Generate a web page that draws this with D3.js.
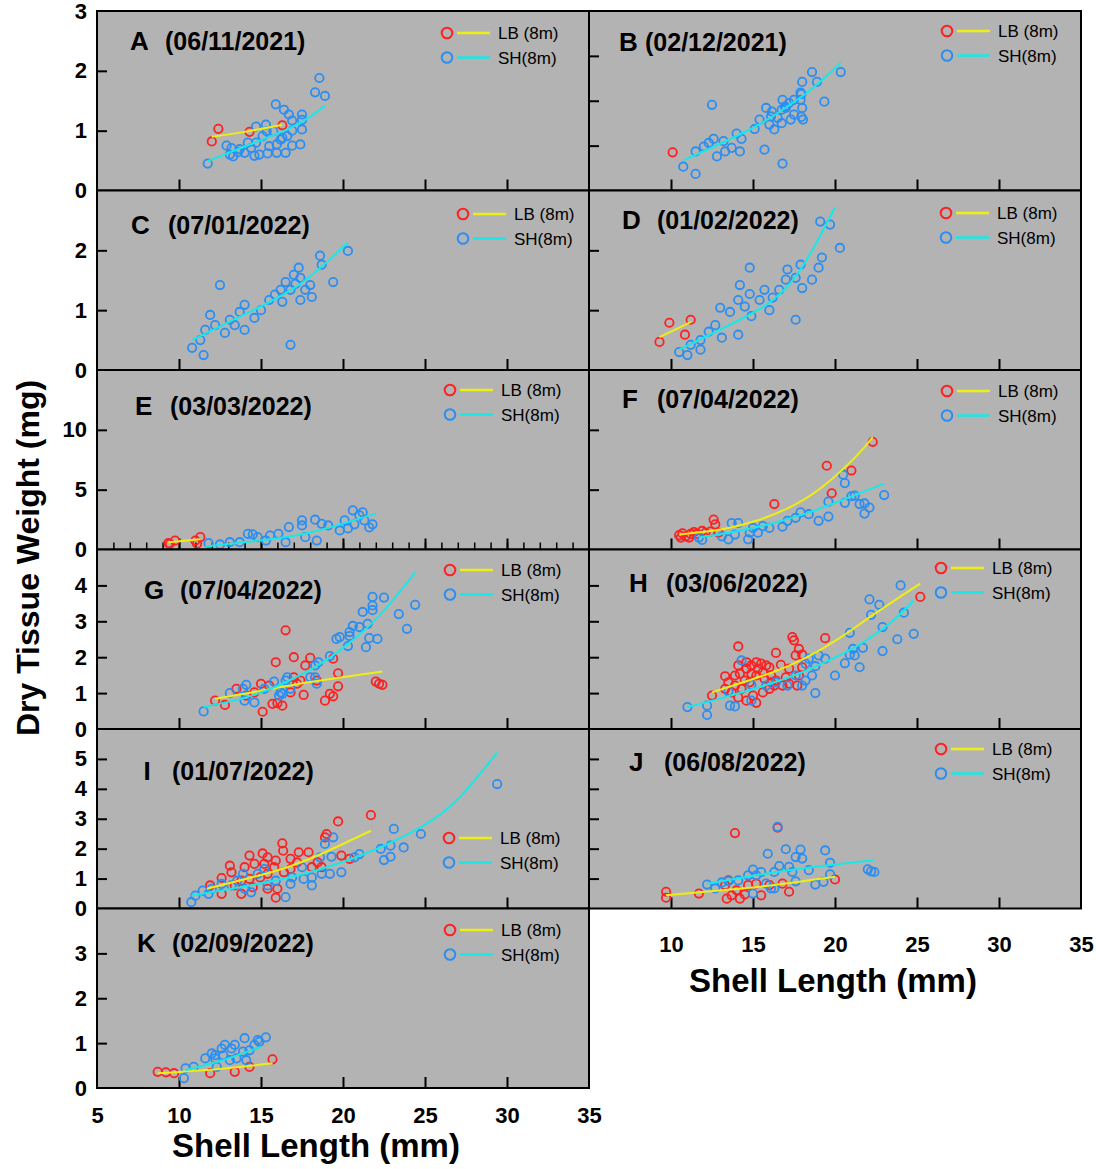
<!DOCTYPE html>
<html>
<head>
<meta charset="utf-8">
<script src="https://cdn.jsdelivr.net/npm/d3@7"></script>
<style>
  body { margin: 0; background: #fff; }
  text { font-family: 'Liberation Sans', Arial, sans-serif; }
</style>
</head>
<body>
<div id="chart"></div>
<script>
// panel meta
const panelIds = ['A', 'B', 'C', 'D', 'E', 'F', 'G', 'H', 'I', 'J', 'K']
const panelDates = ['06/11/2021', '02/12/2021', '07/01/2022', '01/02/2022', '03/03/2022', '07/04/2022',
  '07/04/2022', '03/06/2022', '01/07/2022', '06/08/2022', '02/09/2022']
const yMaxes = [3, 4, 3, 3, 15, 15, 5, 5, 6, 6, 4]
const yTickVals = [[1, 2], [1, 2, 3], [1, 2], [1, 2], [5, 10], [5, 10], [1, 2, 3, 4], [1, 2, 3, 4],
  [1, 2, 3, 4, 5], [1, 2, 3, 4, 5], [1, 2, 3]]
const yLabelVals = [[0, 1, 2, 3], [], [0, 1, 2], [], [0, 5, 10], [], [0, 1, 2, 3, 4], [],
  [0, 1, 2, 3, 4, 5], [], [0, 1, 2, 3]]
const xTickVals = [10, 15, 20, 25, 30]
const xLabelsLeft = [5, 10, 15, 20, 25, 30, 35]
const xLabelsRight = [10, 15, 20, 25, 30, 35]
const legendLabels = ['LB (8m)', 'SH(8m)']

// data: [shell length mm, dry weight mg]
const lbA = [[12.0, 0.82], [12.4, 1.03], [14.3, 0.98], [16.3, 1.09]]
const lbFitA = [[12.0, 0.9], [14.0, 0.98], [16.3, 1.1]]
const shA = [[18.56, 1.88], [18.3, 1.64], [18.9, 1.58], [15.9, 1.44], [16.4, 1.35], [16.7, 1.27], [16.9, 1.17],
  [17.5, 1.27], [17.5, 1.18], [17.5, 1.02], [16.9, 1.0], [16.6, 0.91], [16.3, 0.88], [15.96, 0.77], [15.5, 0.74],
  [15.3, 1.1], [15.35, 0.99], [15.1, 0.91], [14.7, 1.07], [14.7, 0.8], [14.2, 0.8], [14.4, 0.71], [14.0, 0.63],
  [14.6, 0.58], [14.9, 0.6], [15.4, 0.62], [15.96, 0.63], [16.5, 0.63], [16.9, 0.75], [17.4, 0.77], [12.9, 0.75],
  [13.2, 0.71], [13.3, 0.57], [13.6, 0.64], [13.7, 0.69], [11.75, 0.45], [13.1, 0.6], [15.75, 0.99], [16.2, 0.85]]
const shFitA = [[11.75, 0.49], [13.3, 0.66], [15.35, 0.88], [17.4, 1.13], [18.9, 1.42]]

const lbB = [[10.1, 0.85]]
const lbFitB = []
const shB = [[12.5, 1.91], [10.75, 0.53], [11.5, 0.37], [11.5, 0.87], [12.0, 0.98], [12.3, 1.06], [12.6, 1.15],
  [12.8, 0.76], [13.2, 1.1], [13.3, 0.87], [13.7, 0.95], [14.0, 1.27], [14.2, 0.87], [14.3, 1.15], [15.1, 1.37],
  [15.7, 0.91], [15.8, 1.84], [16.1, 1.65], [16.3, 1.36], [20.35, 2.64], [18.6, 2.64], [18.9, 2.42], [18.0, 2.42],
  [17.9, 2.18], [17.95, 2.15], [19.35, 1.98], [17.5, 2.02], [18.0, 1.84], [17.2, 1.95], [16.95, 1.87], [16.75, 1.8],
  [17.5, 1.69], [17.95, 1.64], [18.05, 1.58], [16.75, 1.5], [16.8, 0.6], [16.15, 1.76], [16.5, 1.62], [17.3, 1.58],
  [16.0, 1.47], [16.8, 2.02], [17.0, 1.84], [15.4, 1.58], [17.9, 2.02]]
const shFitB = [[10.75, 0.67], [14.6, 1.32], [16.65, 1.76], [18.5, 2.24], [20.35, 2.84]]

const lbC = []
const lbFitC = []
const shC = [[20.3, 1.99], [18.6, 1.91], [18.7, 1.76], [19.4, 1.47], [18.0, 1.42], [18.1, 1.22], [17.4, 1.54],
  [17.1, 1.44], [16.8, 1.34], [16.5, 1.47], [16.2, 1.34], [15.85, 1.26], [17.0, 1.59], [17.7, 1.34], [17.4, 1.17],
  [15.5, 1.17], [15.0, 1.0], [14.6, 0.87], [14.0, 1.09], [13.7, 0.97], [13.1, 0.84], [12.5, 1.42], [13.4, 0.75],
  [12.8, 0.62], [12.2, 0.75], [11.6, 0.67], [11.3, 0.5], [10.8, 0.37], [11.5, 0.25], [14.0, 0.67], [16.8, 0.42],
  [11.9, 0.92], [16.3, 1.14], [17.3, 1.71]]
const shFitC = [[10.8, 0.5], [14.3, 0.97], [17.4, 1.44], [20.3, 2.13]]

const lbD = [[9.3, 0.47], [9.9, 0.79], [11.2, 0.84], [10.85, 0.59]]
const lbFitD = [[9.3, 0.55], [11.2, 0.8]]
const shD = [[19.1, 2.48], [19.7, 2.43], [20.3, 2.04], [19.0, 1.71], [19.2, 1.88], [18.6, 1.51], [17.9, 1.76],
  [17.6, 1.54], [18.0, 1.37], [17.0, 1.51], [16.6, 1.34], [16.2, 1.21], [15.7, 1.34], [15.4, 1.17], [14.8, 1.27],
  [14.2, 1.42], [14.1, 1.17], [13.6, 0.97], [14.5, 1.06], [14.9, 0.9], [13.0, 1.04], [12.7, 0.75], [12.3, 0.64],
  [11.8, 0.5], [11.2, 0.42], [10.5, 0.3], [11.0, 0.25], [11.8, 0.34], [13.1, 0.54], [14.1, 0.59], [14.8, 1.71],
  [17.6, 0.84], [16.0, 1.0], [17.1, 1.68]]
const shFitD = [[10.5, 0.34], [14.2, 0.84], [17.3, 1.46], [20.0, 2.72]]

const lbE = [[9.35, 0.53], [9.76, 0.75], [11.0, 0.75], [11.3, 1.03], [11.1, 0.48], [9.45, 0.48]]
const lbFitE = [[9.35, 0.6], [11.3, 0.85]]
const shE = [[11.8, 0.53], [12.5, 0.42], [13.1, 0.61], [13.7, 0.61], [14.2, 1.31], [14.5, 1.26], [14.8, 1.03],
  [15.3, 0.75], [15.55, 1.17], [16.06, 1.31], [16.5, 0.61], [16.7, 1.87], [17.5, 2.43], [17.5, 2.01], [17.7, 1.03],
  [18.3, 2.49], [18.4, 0.75], [18.7, 2.15], [19.1, 2.01], [19.8, 1.59], [20.1, 2.43], [20.6, 3.27], [21.0, 2.85],
  [21.2, 3.1], [21.3, 2.43], [21.6, 1.84], [21.8, 2.1], [20.7, 2.1], [20.3, 1.76]]
const shFitE = [[11.6, 0.25], [14.9, 0.75], [18.0, 1.42], [22.0, 3.0]]

const lbF = [[22.3, 9.0], [19.5, 7.0], [21.0, 6.6], [19.8, 4.7], [16.3, 3.8], [12.6, 2.5], [12.7, 2.1], [10.5, 1.2],
  [10.7, 1.35], [10.9, 1.1], [11.2, 1.3], [11.4, 1.45], [11.6, 1.3], [11.9, 1.55], [12.1, 1.4], [12.4, 1.5],
  [12.9, 1.4], [10.6, 1.0], [11.1, 1.0]]
const lbFitF = [[10.5, 1.25], [13.1, 1.7], [15.2, 2.4], [17.2, 3.5], [19.2, 5.2], [21.3, 7.8], [22.3, 9.4]]
const shF = [[23.0, 4.55], [20.5, 6.25], [20.6, 5.55], [19.6, 4.0], [19.6, 2.75], [19.0, 2.4], [21.0, 4.45],
  [21.2, 4.5], [20.6, 3.9], [21.5, 3.8], [21.8, 3.85], [22.1, 3.5], [21.8, 3.0], [17.9, 3.1], [17.6, 2.65],
  [18.4, 2.95], [17.1, 2.4], [16.8, 1.9], [16.0, 1.8], [15.6, 1.95], [15.0, 1.8], [14.8, 1.4], [14.1, 2.2],
  [13.7, 2.2], [13.9, 1.25], [13.5, 0.85], [13.1, 1.1], [11.9, 0.8], [11.7, 1.0], [14.7, 0.85], [15.3, 1.4]]
const shFitF = [[11.7, 1.0], [14.1, 1.55], [16.2, 2.2], [18.2, 3.0], [20.2, 4.0], [23.0, 5.5]]

const lbG = [[16.5, 2.75], [15.9, 1.86], [17.0, 2.0], [18.0, 1.98], [17.7, 1.77], [19.4, 1.96], [19.7, 1.55],
  [19.7, 1.19], [19.2, 0.98], [19.4, 0.91], [18.9, 0.79], [22.0, 1.32], [22.2, 1.26], [22.4, 1.23], [18.4, 1.35],
  [17.6, 0.95], [15.0, 1.26], [15.1, 0.48], [15.7, 0.7], [16.0, 0.72], [16.3, 0.65], [17.2, 1.26], [17.4, 1.35],
  [16.8, 1.02], [14.6, 1.02], [14.1, 0.93], [12.8, 0.67], [12.2, 0.79], [13.5, 1.12], [15.5, 1.21], [17.0, 1.44]]
const lbFitG = [[12.2, 0.84], [15.2, 1.08], [18.2, 1.32], [22.4, 1.6]]
const shG = [[24.4, 3.46], [22.5, 3.66], [21.8, 3.68], [21.8, 3.44], [21.8, 3.31], [21.2, 3.26], [23.4, 3.2],
  [23.9, 2.79], [21.5, 2.93], [21.0, 2.84], [20.6, 2.87], [20.4, 2.7], [20.4, 2.59], [19.8, 2.56], [19.6, 2.51],
  [21.6, 2.53], [22.1, 2.51], [21.4, 2.28], [20.3, 2.31], [19.2, 2.03], [18.5, 1.86], [18.3, 1.77], [18.0, 1.44],
  [18.3, 1.44], [18.4, 1.26], [16.6, 1.44], [16.5, 1.35], [15.8, 1.32], [16.2, 1.02], [16.1, 0.93], [16.3, 0.98],
  [15.2, 1.12], [14.1, 1.23], [13.9, 1.12], [13.1, 1.0], [14.0, 0.79], [14.6, 0.74], [11.5, 0.49], [16.8, 1.12]]
const shFitG = [[11.5, 0.61], [14.1, 0.88], [16.2, 1.24], [18.2, 1.7], [20.2, 2.33], [22.3, 3.2], [24.4, 4.36]]

const lbH = [[25.2, 3.68], [19.4, 2.53], [17.4, 2.56], [17.5, 2.47], [17.8, 2.23], [14.1, 2.3], [16.4, 2.12],
  [18.0, 2.07], [17.6, 2.05], [13.3, 1.47], [12.5, 0.93], [16.7, 1.79], [16.0, 1.72], [15.5, 1.82], [15.2, 1.86],
  [14.9, 1.77], [14.6, 1.68], [14.2, 1.54], [13.9, 1.49], [13.5, 1.3], [13.3, 1.12], [13.7, 1.02], [14.3, 1.12],
  [14.8, 1.3], [15.2, 1.49], [15.6, 1.58], [16.1, 1.49], [16.4, 1.35], [17.0, 1.44], [17.2, 1.68], [16.8, 1.21],
  [17.7, 1.21], [17.8, 1.49], [18.0, 1.72], [14.1, 0.88], [14.6, 0.79], [15.2, 0.73], [15.0, 0.93], [15.6, 1.02],
  [16.0, 1.12], [16.3, 1.21], [13.9, 1.21], [14.5, 1.35], [14.9, 1.54], [15.3, 1.68], [15.7, 1.4], [14.1, 1.77],
  [14.6, 1.86], [15.8, 1.77], [16.1, 1.3], [17.2, 1.26]]
const lbFitH = [[12.5, 1.02], [14.1, 1.26], [16.2, 1.58], [18.2, 1.98], [20.2, 2.51], [22.3, 3.17], [25.2, 4.05]]
const shH = [[24.0, 4.0], [22.1, 3.61], [22.7, 3.46], [22.2, 3.18], [24.2, 3.24], [22.9, 2.84], [20.9, 2.68],
  [23.8, 2.5], [24.8, 2.65], [22.9, 2.17], [21.7, 2.26], [21.1, 2.23], [20.9, 2.07], [21.2, 2.05], [20.6, 1.83],
  [21.5, 1.72], [20.0, 1.49], [19.4, 1.96], [19.0, 2.05], [18.8, 1.75], [18.4, 1.96], [18.2, 1.82], [18.6, 1.49],
  [18.2, 1.35], [18.0, 1.21], [18.8, 1.0], [14.3, 1.91], [14.9, 1.23], [13.5, 1.05], [13.6, 0.65], [13.9, 0.63],
  [14.9, 0.79], [15.8, 1.21], [16.4, 1.3], [11.0, 0.61], [12.2, 0.65], [12.2, 0.39], [17.1, 1.21], [17.6, 1.49]]
const shFitH = [[11.0, 0.61], [13.1, 0.86], [15.2, 1.14], [17.2, 1.44], [19.2, 1.82], [21.3, 2.3], [23.3, 2.93],
  [24.8, 3.58]]

const lbI = [[21.7, 3.12], [19.7, 2.91], [19.0, 2.49], [18.9, 2.38], [19.9, 1.77], [16.3, 2.18], [16.35, 1.93],
  [14.3, 1.77], [15.1, 1.84], [15.4, 1.71], [13.1, 1.43], [13.2, 1.21], [12.6, 1.02], [14.0, 1.38], [14.6, 1.49],
  [15.9, 1.6], [16.8, 1.66], [17.3, 1.88], [17.9, 1.88], [17.2, 1.54], [18.1, 1.38], [18.45, 1.54], [18.7, 1.38],
  [16.8, 1.32], [16.4, 1.21], [15.4, 1.16], [14.95, 1.04], [14.3, 0.99], [13.8, 0.93], [13.4, 0.77], [12.6, 0.49],
  [13.8, 0.49], [15.9, 0.36], [15.4, 0.66], [16.0, 0.66], [14.5, 0.71], [20.4, 1.66], [11.9, 0.77], [15.2, 1.49],
  [15.8, 1.38]]
const lbFitI = [[11.7, 0.66], [14.3, 1.02], [16.6, 1.38], [18.9, 1.88], [21.7, 2.6]]
const shI = [[29.4, 4.16], [24.75, 2.49], [23.1, 2.66], [22.9, 2.1], [23.7, 2.04], [22.3, 1.99], [22.5, 1.62],
  [22.9, 1.73], [21.0, 1.82], [20.7, 1.71], [19.4, 2.38], [18.9, 2.16], [19.3, 1.73], [18.6, 1.71], [19.9, 1.21],
  [19.2, 1.16], [18.7, 1.16], [18.1, 1.04], [17.6, 0.99], [18.1, 0.77], [16.9, 1.04], [16.5, 0.38], [16.8, 0.82],
  [15.4, 0.77], [14.4, 0.54], [15.2, 1.32], [14.8, 1.16], [13.9, 1.16], [13.55, 0.93], [13.2, 0.77], [12.6, 0.82],
  [12.0, 0.66], [11.45, 0.6], [11.0, 0.43], [10.75, 0.21], [11.8, 0.49], [14.0, 0.66], [15.9, 0.93], [17.5, 1.38]]
const shFitI = [[10.75, 0.43], [14.3, 0.77], [17.75, 1.18], [21.3, 1.82], [24.75, 2.72], [27.1, 3.71], [29.4, 5.21]]

const lbJ = [[13.9, 2.52], [16.5, 2.7], [20.0, 0.97], [9.7, 0.56], [9.7, 0.36], [11.7, 0.5], [13.4, 0.33],
  [13.7, 0.44], [14.2, 0.33], [14.5, 0.47], [15.5, 0.44], [17.2, 0.56], [14.7, 0.78], [15.2, 0.83], [13.3, 0.78],
  [13.5, 0.94], [16.0, 0.78], [16.8, 0.83], [14.0, 0.61]]
const lbFitJ = [[9.7, 0.44], [13.1, 0.61], [16.2, 0.78], [20.0, 1.06]]
const shJ = [[16.5, 2.73], [15.9, 1.83], [17.0, 1.98], [17.9, 1.97], [17.6, 1.72], [18.0, 1.67], [19.4, 1.94],
  [19.7, 1.53], [19.7, 1.14], [19.3, 0.89], [18.8, 0.8], [22.0, 1.31], [22.2, 1.24], [22.4, 1.22], [18.4, 1.28],
  [17.6, 0.91], [15.0, 1.3], [15.0, 0.5], [15.5, 1.22], [16.3, 1.22], [16.6, 1.42], [17.2, 1.39], [17.4, 1.22],
  [16.1, 0.67], [15.8, 0.83], [16.3, 0.67], [14.7, 1.11], [14.1, 0.94], [13.1, 0.87], [12.7, 0.67], [12.2, 0.8],
  [13.5, 0.92], [15.2, 1.11]]
const shFitJ = [[12.2, 0.83], [15.2, 1.11], [18.2, 1.35], [22.4, 1.61]]

const lbK = [[8.7, 0.36], [9.2, 0.35], [9.7, 0.33], [11.9, 0.33], [13.4, 0.36], [15.7, 0.64], [14.3, 0.47]]
const lbFitK = [[8.7, 0.33], [12.3, 0.42], [15.7, 0.55]]
const shK = [[10.3, 0.22], [10.4, 0.44], [10.9, 0.47], [11.6, 0.66], [12.0, 0.77], [12.2, 0.66], [12.6, 0.88],
  [13.2, 0.88], [12.7, 0.73], [13.1, 0.62], [13.5, 0.66], [13.9, 0.81], [14.1, 0.62], [14.6, 0.96], [14.9, 1.03],
  [12.3, 0.47], [14.0, 1.11], [14.8, 1.07], [15.3, 1.13], [13.4, 0.96], [12.8, 0.96], [12.2, 0.73], [14.3, 0.84]]
const shFitK = [[10.4, 0.4], [12.5, 0.6], [15.0, 0.92]]

const lbSets = [lbA, lbB, lbC, lbD, lbE, lbF, lbG, lbH, lbI, lbJ, lbK]
const lbFits = [lbFitA, lbFitB, lbFitC, lbFitD, lbFitE, lbFitF, lbFitG, lbFitH, lbFitI, lbFitJ, lbFitK]
const shSets = [shA, shB, shC, shD, shE, shF, shG, shH, shI, shJ, shK]
const shFits = [shFitA, shFitB, shFitC, shFitD, shFitE, shFitF, shFitG, shFitH, shFitI, shFitJ, shFitK]

// layout (offsets inside each panel)
const titleOffsets = [[33, 68, 39], [30, 56, 40], [34, 71, 43.5], [33, 68, 38.5], [38, 73, 45], [33, 68, 38],
  [47, 83, 49.5], [40, 77, 42.5], [46.5, 75, 51], [40, 75, 42], [40, 75, 43.5]]
const legendOffsets = [[350, 22], [358, 20], [366, 23.5], [357, 22.5], [353, 20], [358, 21], [353, 20.5],
  [352, 18.5], [352, 109], [352, 20], [353, 21.5]]

const colLeft = [97, 589]
const panelW = 492
const rowTop = 11
const rowH = 179.5

const red = '#ff2020'
const blue = '#2a8ef2'
const yellow = '#eeee14'
const cyan = '#17e8e8'
const gray = '#b3b3b3'

const svg = d3.select('#chart')
  .append('svg')
  .attr('width', 1096)
  .attr('height', 1169)

const x = d3.scaleLinear().domain([5, 35]).range([0, panelW])

panelIds.forEach(function(id, i) {
  const col = i % 2
  const row = Math.floor(i / 2)
  const x0 = colLeft[col]
  const top = rowTop + row * rowH
  const y = d3.scaleLinear().domain([0, yMaxes[i]]).range([rowH, 0])

  const g = svg.append('g')
    .attr('transform', 'translate(' + x0 + ',' + top + ')')

  g.append('rect')
    .attr('width', panelW)
    .attr('height', rowH)
    .attr('fill', gray)

  // ticks inside
  const yTicks = g.append('g')
    .call(d3.axisRight(y).tickValues(yTickVals[i]).tickSize(10).tickFormat(''))
  yTicks.select('.domain').remove()
  yTicks.selectAll('line').attr('stroke', '#000').attr('stroke-width', 2)

  const xTicks = g.append('g')
    .attr('transform', 'translate(0,' + rowH + ')')
    .call(d3.axisTop(x).tickValues(xTickVals).tickSize(11).tickFormat(''))
  xTicks.select('.domain').remove()
  xTicks.selectAll('line').attr('stroke', '#000').attr('stroke-width', 2)

  if (id === 'E') {
    // minor mm ticks
    const minor = g.append('g')
      .attr('transform', 'translate(0,' + rowH + ')')
      .call(d3.axisTop(x).tickValues(d3.range(6, 35)).tickSize(7).tickFormat(''))
    minor.select('.domain').remove()
    minor.selectAll('line').attr('stroke', '#000').attr('stroke-width', 1.5)
  }

  if (yLabelVals[i].length) {
    const yl = g.append('g')
      .call(d3.axisLeft(y).tickValues(yLabelVals[i]).tickSize(0).tickPadding(10).tickFormat(d3.format('d')))
    yl.select('.domain').remove()
    yl.selectAll('text')
      .attr('font-size', 22)
      .attr('font-weight', 'bold')
      .attr('fill', '#000')
      .style('font-family', "'Liberation Sans', Arial, sans-serif")
  }

  // points
  g.append('g')
    .selectAll('circle')
    .data(lbSets[i])
    .enter()
    .append('circle')
    .attr('cx', d => x(d[0]))
    .attr('cy', d => y(d[1]))
    .attr('r', 4.2)
    .attr('fill', 'none')
    .attr('stroke', red)
    .attr('stroke-width', 1.8)

  g.append('g')
    .selectAll('circle')
    .data(shSets[i])
    .enter()
    .append('circle')
    .attr('cx', d => x(d[0]))
    .attr('cy', d => y(d[1]))
    .attr('r', 4.2)
    .attr('fill', 'none')
    .attr('stroke', blue)
    .attr('stroke-width', 1.8)

  const line = d3.line()
    .x(d => x(d[0]))
    .y(d => y(d[1]))
    .curve(d3.curveNatural)

  if (lbFits[i].length) {
    g.append('path')
      .attr('d', line(lbFits[i]))
      .attr('fill', 'none')
      .attr('stroke', yellow)
      .attr('stroke-width', 2)
  }
  g.append('path')
    .attr('d', line(shFits[i]))
    .attr('fill', 'none')
    .attr('stroke', cyan)
    .attr('stroke-width', 2)

  // title
  const t = titleOffsets[i]
  g.append('text')
    .attr('x', t[0])
    .attr('y', t[2])
    .attr('font-size', 26)
    .attr('font-weight', 'bold')
    .text(id)
  g.append('text')
    .attr('x', t[1])
    .attr('y', t[2])
    .attr('font-size', 25)
    .attr('font-weight', 'bold')
    .text('(' + panelDates[i] + ')')

  // legend
  const lo = legendOffsets[i]
  const leg = g.append('g')
    .attr('transform', 'translate(' + lo[0] + ',' + lo[1] + ')')
  ;[[red, yellow], [blue, cyan]].forEach(function(c, k) {
    const row = leg.append('g').attr('transform', 'translate(0,' + k * 24.5 + ')')
    row.append('circle')
      .attr('r', 5.3)
      .attr('fill', 'none')
      .attr('stroke', c[0])
      .attr('stroke-width', 2)
    row.append('line')
      .attr('x1', 10)
      .attr('x2', 43)
      .attr('stroke', c[1])
      .attr('stroke-width', 2.5)
    row.append('text')
      .attr('x', 51)
      .attr('y', 6)
      .attr('font-size', 17)
      .text(legendLabels[k])
  })

  g.append('rect')
    .attr('width', panelW)
    .attr('height', rowH)
    .attr('fill', 'none')
    .attr('stroke', '#000')
    .attr('stroke-width', 2)
})

// bottom axis labels
function xLabels(x0, yPos, vals) {
  const ax = svg.append('g')
    .attr('transform', 'translate(' + x0 + ',' + yPos + ')')
    .call(d3.axisBottom(x).tickValues(vals).tickSize(0).tickPadding(0))
  ax.select('.domain').remove()
  ax.selectAll('text')
    .attr('font-size', 22)
    .attr('font-weight', 'bold')
    .attr('fill', '#000')
    .attr('dy', '0.71em')
    .style('font-family', "'Liberation Sans', Arial, sans-serif")
}
xLabels(colLeft[0], 1107, xLabelsLeft)
xLabels(colLeft[1], 936, xLabelsRight)

svg.append('text')
  .attr('x', 316)
  .attr('y', 1157)
  .attr('text-anchor', 'middle')
  .attr('font-size', 33)
  .attr('font-weight', 'bold')
  .text('Shell Length (mm)')

svg.append('text')
  .attr('x', 833)
  .attr('y', 992)
  .attr('text-anchor', 'middle')
  .attr('font-size', 33)
  .attr('font-weight', 'bold')
  .text('Shell Length (mm)')

svg.append('text')
  .attr('transform', 'translate(39,558) rotate(-90)')
  .attr('text-anchor', 'middle')
  .attr('font-size', 32)
  .attr('font-weight', 'bold')
  .text('Dry Tissue Weight (mg)')
</script>
</body>
</html>
